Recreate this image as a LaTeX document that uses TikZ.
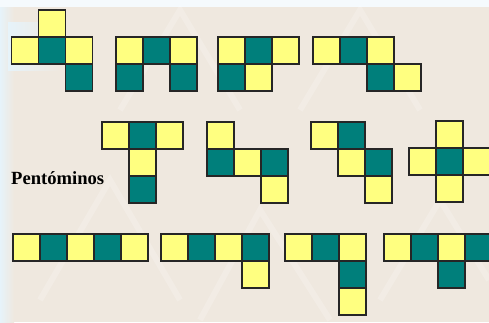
\documentclass[tikz,border=0pt]{standalone}
\usepackage{fontspec}
\setmainfont{Liberation Serif}
\definecolor{pyel}{HTML}{FFFF80}
\definecolor{pteal}{HTML}{007F7B}
\definecolor{bgbeige}{HTML}{EFE8DF}
\definecolor{bgblue}{HTML}{E6F3FA}
\begin{document}
\begin{tikzpicture}[x=1pt,y=-1pt,
  cellY/.style={draw=black!85,line width=1.2pt,fill=pyel},
  cellT/.style={draw=black!85,line width=1.2pt,fill=pteal},
  lbl/.style={font=\fontsize{18.6}{22}\selectfont\bfseries,anchor=base west,inner sep=0pt}]
\useasboundingbox (0,0) rectangle (489,322);
\clip (0,0) rectangle (489,322);
% background
\fill[bgbeige] (0,0) rectangle (489,322);
\fill[white!60!bgblue] (0,0) rectangle (489,7);
\shade[left color=bgblue,right color=bgbeige] (0,7) rectangle (14,322);
\shade[left color=bgblue,right color=bgbeige] (8,22) rectangle (60,70);
% faint pattern
\begin{scope}[draw=white,opacity=0.2,line width=6pt]
\draw (40,300) -- (110,180) -- (180,300);
\draw (200,320) -- (260,210) -- (330,320);
\draw (300,110) -- (360,10) -- (420,110);
\draw (120,110) -- (180,10) -- (240,110);
\draw (380,300) -- (440,200) -- (489,280);
\end{scope}
\def\cs{27}
% helper: \sq{x0}{y0}{col}{row}{style}
\def\sq#1#2#3#4#5{\draw[#5] ({#1+#3*\cs},{#2+#4*\cs}) rectangle ++(\cs,\cs);}
% piece 1
\sq{11.5}{10}{1}{0}{cellY}
\sq{11.5}{10}{0}{1}{cellY}\sq{11.5}{10}{1}{1}{cellT}\sq{11.5}{10}{2}{1}{cellY}
\sq{11.5}{10}{2}{2}{cellT}
% piece 2
\sq{116}{37}{0}{0}{cellY}\sq{116}{37}{1}{0}{cellT}\sq{116}{37}{2}{0}{cellY}
\sq{116}{37}{0}{1}{cellT}\sq{116}{37}{2}{1}{cellT}
% piece 3
\sq{218}{37}{0}{0}{cellY}\sq{218}{37}{1}{0}{cellT}\sq{218}{37}{2}{0}{cellY}
\sq{218}{37}{0}{1}{cellT}\sq{218}{37}{1}{1}{cellY}
% piece 4
\sq{313}{37}{0}{0}{cellY}\sq{313}{37}{1}{0}{cellT}\sq{313}{37}{2}{0}{cellY}
\sq{313}{37}{2}{1}{cellT}\sq{313}{37}{3}{1}{cellY}
% piece 5
\sq{102}{122}{0}{0}{cellY}\sq{102}{122}{1}{0}{cellT}\sq{102}{122}{2}{0}{cellY}
\sq{102}{122}{1}{1}{cellY}\sq{102}{122}{1}{2}{cellT}
% piece 6
\sq{207}{122}{0}{0}{cellY}
\sq{207}{122}{0}{1}{cellT}\sq{207}{122}{1}{1}{cellY}\sq{207}{122}{2}{1}{cellT}
\sq{207}{122}{2}{2}{cellY}
% piece 7
\sq{311}{122}{0}{0}{cellY}\sq{311}{122}{1}{0}{cellT}
\sq{311}{122}{1}{1}{cellY}\sq{311}{122}{2}{1}{cellT}
\sq{311}{122}{2}{2}{cellY}
% piece 8
\sq{409}{121}{1}{0}{cellY}
\sq{409}{121}{0}{1}{cellY}\sq{409}{121}{1}{1}{cellT}\sq{409}{121}{2}{1}{cellY}
\sq{409}{121}{1}{2}{cellY}
% piece 9
\sq{13}{234}{0}{0}{cellY}\sq{13}{234}{1}{0}{cellT}\sq{13}{234}{2}{0}{cellY}\sq{13}{234}{3}{0}{cellT}\sq{13}{234}{4}{0}{cellY}
% piece 10
\sq{161}{234}{0}{0}{cellY}\sq{161}{234}{1}{0}{cellT}\sq{161}{234}{2}{0}{cellY}\sq{161}{234}{3}{0}{cellT}
\sq{161}{234}{3}{1}{cellY}
% piece 11
\sq{285}{234}{0}{0}{cellY}\sq{285}{234}{1}{0}{cellT}\sq{285}{234}{2}{0}{cellY}
\sq{285}{234}{2}{1}{cellT}\sq{285}{234}{2}{2}{cellY}
% piece 12
\sq{384}{234}{0}{0}{cellY}\sq{384}{234}{1}{0}{cellT}\sq{384}{234}{2}{0}{cellY}\sq{384}{234}{3}{0}{cellT}
\sq{384}{234}{2}{1}{cellT}
% label
\node[lbl] (title) at (11,184) {Pentóminos};
\end{tikzpicture}
\end{document}
